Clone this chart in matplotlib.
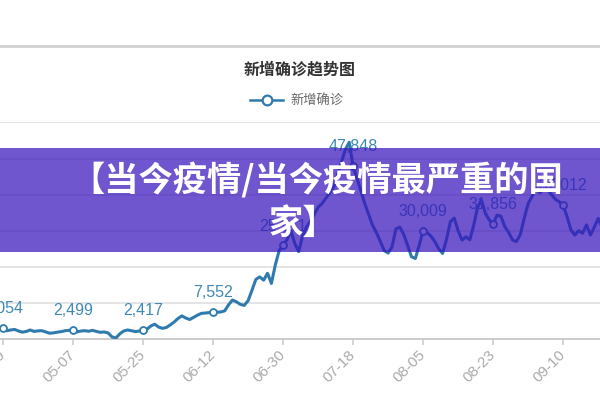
import matplotlib
matplotlib.use("Agg")
import matplotlib.pyplot as plt
from matplotlib.lines import Line2D
from matplotlib.patches import Rectangle
import numpy as np

plt.rcParams['font.family'] = ['Noto Sans CJK SC', 'DejaVu Sans']

# ---- data (daily new confirmed cases, starting 04-19) ----
values = [
    3054, 2300, 2500, 2650, 2200, 1900, 2100, 2500, 2100, 2250,
    2300, 1950, 1600, 1700, 1900, 2050, 2300, 2400, 2499, 1950,
    2200, 2300, 2150, 2400, 2100, 1850, 1950, 1700, 600, 250,
    1400, 2200, 2500, 2300, 2050, 2200, 2417, 2700, 3600, 4100,
    3300, 2950, 3200, 3900, 4700, 5700, 6400, 5800, 5400, 6000,
    6600, 7100, 7200, 7300, 7552, 7400, 7500, 7800, 9500, 10800,
    10300, 9600, 9300, 10600, 13500, 16500, 17200, 16300, 18200, 15400,
    20500, 24500, 25911, 27500, 30000, 26500, 24200, 28500, 31000, 32500,
    34500, 36500, 37500, 39000, 40500, 42000, 45500, 49000, 52500, 54500,
    47848, 44500, 41000, 37500, 34500, 31500, 29500, 27000, 24500, 23800,
    25500, 30500, 31000, 29000, 26000, 22800, 22300, 26000, 30009, 29500,
    28500, 27000, 25000, 23700, 27500, 32500, 33500, 30000, 27400, 28300,
    27500, 31500, 36500, 38500, 34800, 33000, 31856, 34300, 34000, 31100,
    29500, 27400, 27000, 29000, 33500, 37500, 39500, 41700, 40500, 41500,
    41300, 40000, 38700, 38000, 37012, 33900, 30200, 28800, 30000, 29300,
    31600, 28800, 31000, 33400, 31000,
]
tick_labels = ['04-19', '05-07', '05-25', '06-12', '06-30', '07-18',
               '08-05', '08-23', '09-10', '09-28']
tick_step = 18
title = '新增确诊趋势图'
series_name = '新增确诊'
banner_line1 = '【当今疫情/当今疫情最严重的国'
banner_line2 = '家】'

line_color = '#2f7bae'
label_color = '#3f89b6'

W, H = 600, 400
fig = plt.figure(figsize=(6, 4), dpi=100)
fig.patch.set_facecolor('white')

def fy(py):
    return 1 - py / H

ax = fig.add_axes([0, fy(339), 1, (339 - 122.4) / H])
x = np.arange(len(values))

ax.set_yticks(np.arange(0, 60001, 10000))
ax.yaxis.grid(True, color='#e2e2e2', lw=1.3)
ax.set_axisbelow(True)
ax.tick_params(axis='y', length=0, labelleft=False)
for s in ['top', 'right', 'left']:
    ax.spines[s].set_visible(False)
ax.spines['bottom'].set_color('#cccccc')
ax.spines['bottom'].set_linewidth(1.4)

tick_pos = np.arange(len(tick_labels)) * tick_step
ax.set_xticks(tick_pos)
ax.set_xticklabels(tick_labels, rotation=45, ha='right', va='center',
                   rotation_mode='anchor', color='#aaaaaa', fontsize=11,
                   family=['Liberation Sans', 'DejaVu Sans'])
ax.tick_params(axis='x', length=4, width=1.2, color='#cccccc', pad=6)

ax.plot(x, values, color=line_color, lw=2.2, solid_joinstyle='round',
        solid_capstyle='round', zorder=3)

mk = [p for p in tick_pos if p < len(values)]
mv = [values[p] for p in mk]
ax.plot(mk, mv, 'o', ms=5, mfc='white', mec=line_color, mew=1.3, zorder=4)
for px_, v in zip(mk, mv):
    ax.annotate(f'{v:,}', (px_, v), xytext=(0, 14), textcoords='offset points',
                ha='center', va='center', fontsize=11.5, color=label_color,
                family=['Liberation Sans', 'DejaVu Sans'], zorder=5,
                annotation_clip=False)

ax.set_xlim(-0.771, 153.47)
ax.set_ylim(0, 60000)

# frame line at top
fig.add_artist(Line2D([0, 1], [fy(46), fy(46)], color='#d2d2d2', lw=2.0))

# title & legend
fig.text(0.5, fy(70), title, ha='center', va='center', fontsize=11.5,
         weight='bold', color='#333333')
fig.add_artist(Line2D([250 / W, 283 / W], [fy(100), fy(100)], color=line_color, lw=1.8))
fig.add_artist(Line2D([266.5 / W], [fy(100)], marker='o', ms=7, mfc='white',
                      mec=line_color, mew=1.6, color=line_color))
fig.text(290 / W, fy(100), series_name, ha='left', va='center', fontsize=9.5,
         color='#666666')

# banner overlay
fig.add_artist(Rectangle((0, fy(252)), 1, (252 - 148) / H, transform=fig.transFigure,
                         facecolor=(56 / 255, 20 / 255, 188 / 255), alpha=0.72,
                         edgecolor='none', zorder=10))
fig.text(317 / W, fy(181), banner_line1, ha='center', va='center', fontsize=24.7,
         weight='bold', color='white', zorder=11)
fig.text(303 / W, fy(223), banner_line2, ha='center', va='center', fontsize=24.7,
         weight='bold', color='white', zorder=11)

fig.savefig('out.png', dpi=100)
